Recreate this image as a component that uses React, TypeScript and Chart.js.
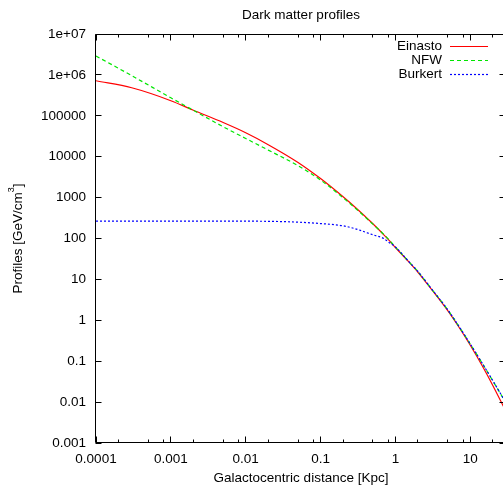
import React, { useEffect, useRef } from 'react';
import { Chart, registerables } from 'chart.js';

Chart.register(...registerables);

// ---- data ----
const X_VALUES = [0.0001, 0.0003, 0.001, 0.002, 0.005, 0.01, 0.02, 0.05, 0.1, 0.2, 0.3, 0.5, 0.7, 0.8, 1, 1.5, 2, 3, 5, 7, 10, 15, 20, 30];
const EINASTO = [7.2e5, 4.84e5, 2.34e5, 1.365e5, 6.84e4, 3.85e4, 1.97e4, 7240, 2917, 1047, 550, 229, 123, 95.3, 60.3, 27.1, 14.9, 5.86, 1.72, 0.695, 0.245, 0.0682, 0.0255, 0.00586];
const NFW = [2.9e6, 9.6e5, 2.75e5, 1.36e5, 5.4e4, 2.79e4, 1.45e4, 6030, 2690, 990, 525, 224, 126, 98, 61.7, 27.5, 15.5, 6.0, 1.8, 0.724, 0.263, 0.0794, 0.0331, 0.0095];
const BURKERT = [266, 266, 266, 266, 265, 265, 263, 251, 232, 204, 170, 123, 100, 83, 62, 27.6, 15.6, 6.05, 1.81, 0.727, 0.264, 0.0796, 0.0333, 0.0096];

const SERIES_LABELS = ['Einasto', 'NFW', 'Burkert'];

const X_TICKS = [0.0001, 0.001, 0.01, 0.1, 1, 10];
const X_TICK_LABELS = ['0.0001', '0.001', '0.01', '0.1', '1', '10'];
const X_MINOR_MULTIPLIERS = [2, 5, 8];
const Y_TICKS = [0.001, 0.01, 0.1, 1, 10, 100, 1000, 10000, 100000, 1e6, 1e7];
const Y_TICK_LABELS = ['0.001', '0.01', '0.1', '1', '10', '100', '1000', '10000', '100000', '1e+06', '1e+07'];

const TITLE = 'Dark matter profiles';
const X_TITLE = 'Galactocentric distance [Kpc]';
const Y_TITLE_MAIN = 'Profiles [GeV/cm';
const Y_TITLE_SUP = '3';
const Y_TITLE_END = ']';

const FONT_FAMILY = '"Liberation Sans", Arial, Helvetica, sans-serif';
const FS = 13.5;

const gnuplotPlugin = {
  id: 'gnuplotDecor',
  afterDatasetsDraw(chart: any) {
    const { ctx, chartArea: a, scales } = chart;
    const xs = scales.x;
    const ys = scales.y;
    ctx.save();
    ctx.strokeStyle = '#000';
    ctx.lineWidth = 1;
    const L = Math.round(a.left) - 0.5;
    const R = Math.round(a.right) - 0.5;
    const T = Math.round(a.top) + 0.5;
    const B = Math.round(a.bottom) - 0.5;
    ctx.beginPath();
    ctx.rect(L, T, R - L, B - T);
    const major = 6;
    const minor = 3;
    const xmax = xs.max;
    for (const v of X_TICKS) {
      const px = Math.floor(xs.getPixelForValue(v)) + 0.5;
      ctx.moveTo(px, B); ctx.lineTo(px, B - major);
      ctx.moveTo(px, T); ctx.lineTo(px, T + major);
      for (const m of X_MINOR_MULTIPLIERS) {
        const val = v * m;
        if (val > xmax) continue;
        const mx = Math.floor(xs.getPixelForValue(val)) + 0.5;
        ctx.moveTo(mx, B); ctx.lineTo(mx, B - minor);
        ctx.moveTo(mx, T); ctx.lineTo(mx, T + minor);
      }
    }
    for (const v of Y_TICKS) {
      const py = Math.floor(ys.getPixelForValue(v)) + 0.5;
      ctx.moveTo(L, py); ctx.lineTo(L + major, py);
      ctx.moveTo(R, py); ctx.lineTo(R - major, py);
    }
    ctx.stroke();
    ctx.restore();
  },
  afterDraw(chart: any) {
    const { ctx, chartArea: a } = chart;
    const cx = (a.left + a.right) / 2;
    ctx.save();
    ctx.fillStyle = '#000';
    ctx.font = `${FS}px ${FONT_FAMILY}`;
    ctx.textAlign = 'center';
    ctx.textBaseline = 'alphabetic';
    ctx.fillText(TITLE, cx, 18.5);
    ctx.fillText(X_TITLE, cx, a.bottom + 39);

    // y title with superscript
    const cy = (a.top + a.bottom) / 2;
    const supFont = `9px ${FONT_FAMILY}`;
    const mainFont = `${FS}px ${FONT_FAMILY}`;
    ctx.font = mainFont;
    const w1 = ctx.measureText(Y_TITLE_MAIN).width;
    const w3 = ctx.measureText(Y_TITLE_END).width;
    ctx.font = supFont;
    const w2 = ctx.measureText(Y_TITLE_SUP).width;
    const total = w1 + w2 + w3;
    ctx.translate(21.7, cy);
    ctx.rotate(-Math.PI / 2);
    ctx.textAlign = 'left';
    let x0 = -total / 2;
    ctx.font = mainFont;
    ctx.fillText(Y_TITLE_MAIN, x0, 0);
    x0 += w1;
    ctx.font = supFont;
    ctx.fillText(Y_TITLE_SUP, x0, -8);
    x0 += w2;
    ctx.font = mainFont;
    ctx.fillText(Y_TITLE_END, x0, 0);
    ctx.restore();

    // legend
    ctx.save();
    ctx.font = `${FS}px ${FONT_FAMILY}`;
    ctx.textAlign = 'right';
    ctx.textBaseline = 'middle';
    chart.data.datasets.forEach((ds: any, i: number) => {
      const y = a.top + 12 + i * 14;
      ctx.fillStyle = '#000';
      ctx.fillText(ds.label, a.right - 64, y);
      ctx.beginPath();
      ctx.strokeStyle = ds.borderColor;
      ctx.lineWidth = ds.borderWidth;
      ctx.setLineDash(ds.borderDash || []);
      const ly = Math.round(y) + 0.5;
      ctx.moveTo(a.right - 56, ly);
      ctx.lineTo(a.right - 18, ly);
      ctx.stroke();
    });
    ctx.restore();
  },
};

export default function App() {
  const ref = useRef<HTMLCanvasElement>(null);
  useEffect(() => {
    const toPts = (arr: number[]) => X_VALUES.map((x, i) => ({ x, y: arr[i] }));
    const chart = new Chart(ref.current as HTMLCanvasElement, {
      type: 'line',
      data: {
        datasets: [
          { label: SERIES_LABELS[0], data: toPts(EINASTO), borderColor: '#ff0000', borderWidth: 1.2, pointRadius: 0, fill: false, cubicInterpolationMode: 'monotone', order: 3 },
          { label: SERIES_LABELS[1], data: toPts(NFW), borderColor: '#00e600', borderWidth: 1.2, borderDash: [4, 3], pointRadius: 0, fill: false, cubicInterpolationMode: 'monotone', order: 2 },
          { label: SERIES_LABELS[2], data: toPts(BURKERT), borderColor: '#0000ff', borderWidth: 1.2, borderDash: [2, 2], pointRadius: 0, fill: false, cubicInterpolationMode: 'monotone', order: 1 },
        ] as any,
      },
      options: {
        responsive: false,
        animation: false,
        layout: { padding: { left: 0, right: 14, top: 34, bottom: 0 } },
        plugins: {
          legend: { display: false },
          title: { display: false },
          tooltip: { enabled: false },
        },
        scales: {
          x: {
            type: 'logarithmic',
            min: 0.0001,
            max: 30,
            grid: { display: false, drawTicks: false },
            border: { display: false },
            afterBuildTicks: (s: any) => { s.ticks = X_TICKS.map((v) => ({ value: v })); },
            afterFit: (s: any) => { s.height = 43; },
            ticks: {
              autoSkip: false,
              maxRotation: 0,
              padding: 8,
              color: '#000',
              font: { family: FONT_FAMILY, size: FS },
              callback: (_v: any, i: number) => X_TICK_LABELS[i],
            },
          },
          y: {
            type: 'logarithmic',
            min: 0.001,
            max: 1e7,
            grid: { display: false, drawTicks: false },
            border: { display: false },
            afterBuildTicks: (s: any) => { s.ticks = Y_TICKS.map((v) => ({ value: v })); },
            afterFit: (s: any) => { s.width = 96; },
            ticks: {
              autoSkip: false,
              padding: 10,
              color: '#000',
              font: { family: FONT_FAMILY, size: FS },
              callback: (_v: any, i: number) => Y_TICK_LABELS[i],
            },
          },
        },
      } as any,
      plugins: [gnuplotPlugin],
    });
    return () => chart.destroy();
  }, []);
  return (
    <div style={{ position: 'absolute', left: 0, top: 0, width: 503, height: 486, overflow: 'hidden', background: '#fff' }}>
      <canvas ref={ref} width={520} height={486} style={{ display: 'block', width: 520, height: 486 }} />
    </div>
  );
}
